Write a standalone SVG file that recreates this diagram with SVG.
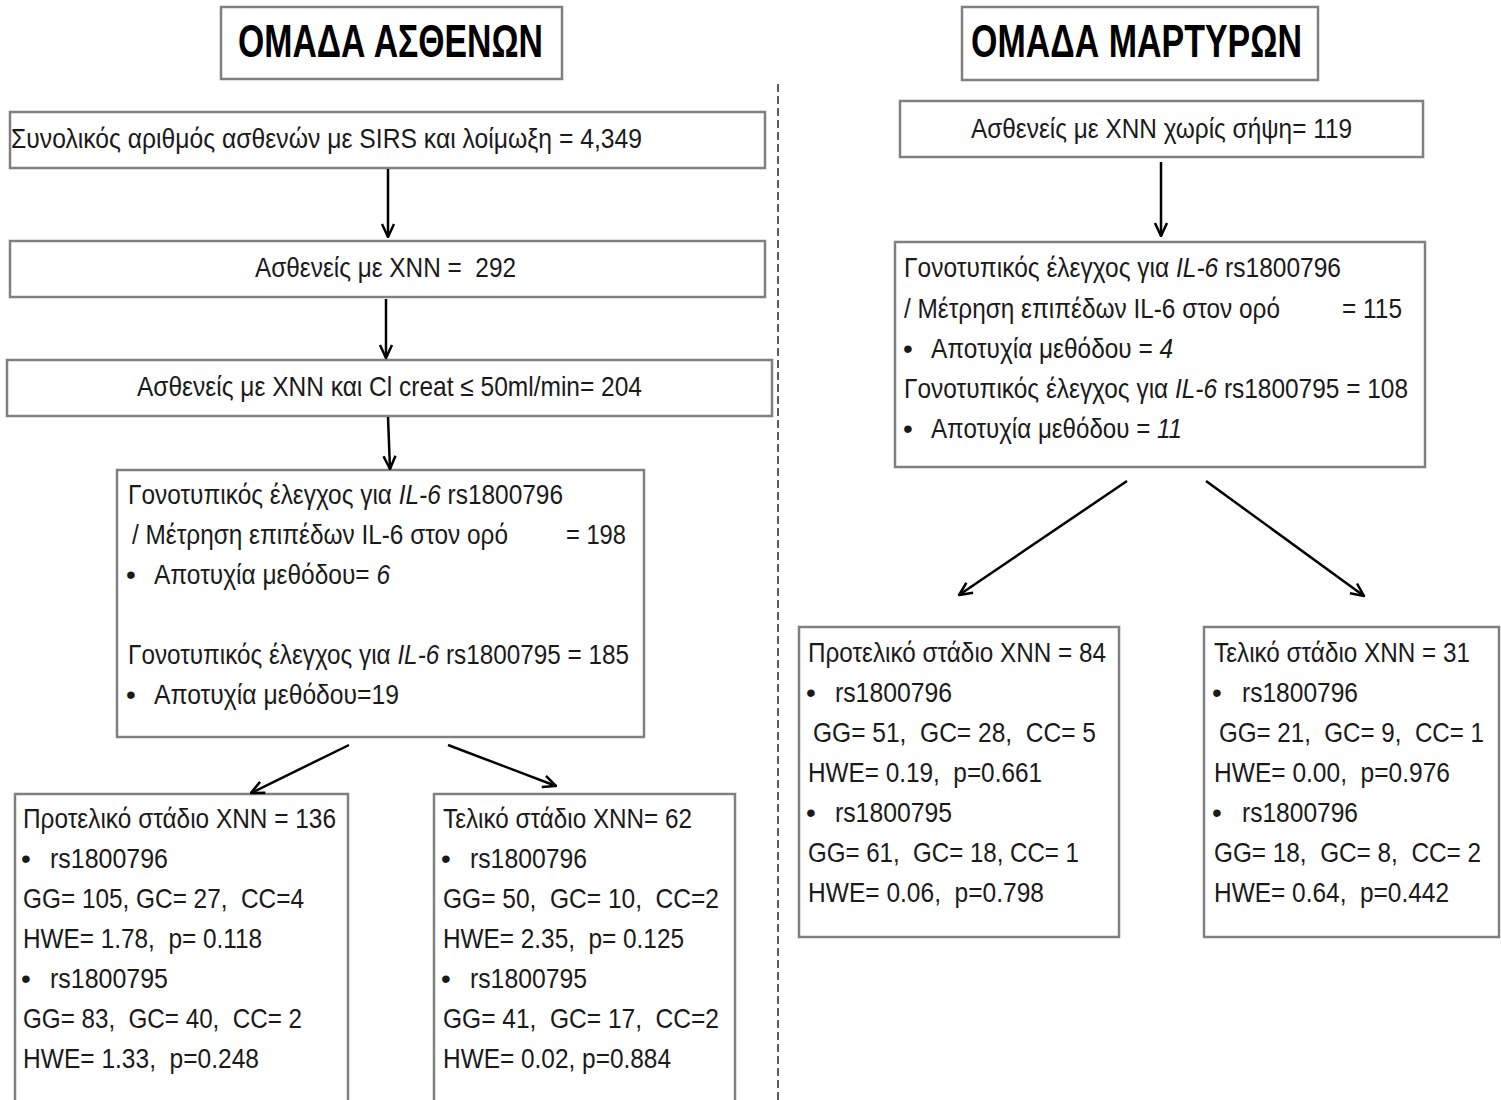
<svg xmlns="http://www.w3.org/2000/svg" width="1501" height="1100" viewBox="0 0 1501 1100">
<style>
.box{fill:#fff;stroke:#808080;stroke-width:2.5}
.t{font-family:"Liberation Sans",Arial,sans-serif;font-size:28px;fill:#1a1a1a;white-space:pre}
.ttl{font-family:"Liberation Sans",Arial,sans-serif;font-size:46px;font-weight:bold;fill:#000}
.i{font-style:italic}
.arr{stroke:#000;stroke-width:2.5;fill:none;marker-end:url(#ah)}
.sep{stroke:#333;stroke-width:1.6;stroke-dasharray:8,4;fill:none}
</style>
<defs>
<marker id="ah" viewBox="0 0 16 16" refX="15" refY="8" markerWidth="16" markerHeight="16" markerUnits="userSpaceOnUse" orient="auto">
<path d="M2,2 L15,8 L2,14" stroke="#000" stroke-width="2.5" fill="none"/>
</marker>
</defs>
<rect width="1501" height="1100" fill="#fff"/>

<g id="separator"><line class="sep" x1="778" y1="84" x2="778" y2="1100"/></g>

<g id="title-patients">
<rect class="box" x="221" y="7" width="341" height="72"/>
<text class="ttl" x="238" y="57" textLength="305" lengthAdjust="spacingAndGlyphs">ΟΜΑΔΑ ΑΣΘΕΝΩΝ</text>
</g>
<g id="title-controls">
<rect class="box" x="962" y="7" width="356" height="73"/>
<text class="ttl" x="971" y="57" textLength="331" lengthAdjust="spacingAndGlyphs">ΟΜΑΔΑ ΜΑΡΤΥΡΩΝ</text>
</g>

<g id="box-sirs">
<rect class="box" x="10" y="112" width="755" height="56"/>
<text class="t" x="11" y="148" textLength="631" lengthAdjust="spacingAndGlyphs">Συνολικός αριθμός ασθενών με SIRS και λοίμωξη = 4,349</text>
</g>
<g id="box-ckd">
<rect class="box" x="10" y="241" width="755" height="56"/>
<text class="t" x="255" y="277" textLength="261" lengthAdjust="spacingAndGlyphs">Ασθενείς με XNN =  292</text>
</g>
<g id="box-clcreat">
<rect class="box" x="7" y="360" width="765" height="56"/>
<text class="t" x="137" y="396" textLength="505" lengthAdjust="spacingAndGlyphs">Ασθενείς με XNN και Cl creat ≤ 50ml/min= 204</text>
</g>
<g id="box-genotype-patients">
<rect class="box" x="117" y="470" width="527" height="267"/>
<text class="t" x="128" y="504" textLength="435" lengthAdjust="spacingAndGlyphs">Γονοτυπικός έλεγχος για <tspan class="i">IL-6</tspan> rs1800796</text>
<text class="t" x="132" y="544" textLength="376" lengthAdjust="spacingAndGlyphs">/ Μέτρηση επιπέδων IL-6 στον ορό</text>
<text class="t" x="566" y="544" textLength="60" lengthAdjust="spacingAndGlyphs">= 198</text>
<text class="t" x="126" y="584">•</text>
<text class="t" x="154" y="584" textLength="236" lengthAdjust="spacingAndGlyphs">Αποτυχία μεθόδου= <tspan class="i">6</tspan></text>
<text class="t" x="128" y="664" textLength="501" lengthAdjust="spacingAndGlyphs">Γονοτυπικός έλεγχος για <tspan class="i">IL-6</tspan> rs1800795 = 185</text>
<text class="t" x="126" y="704">•</text>
<text class="t" x="154" y="704" textLength="245" lengthAdjust="spacingAndGlyphs">Αποτυχία μεθόδου=19</text>
</g>
<g id="box-pre-esrd-patients">
<rect class="box" x="15" y="794" width="333" height="330"/>
<text class="t" x="23" y="828" textLength="313" lengthAdjust="spacingAndGlyphs">Προτελικό στάδιο XNN = 136</text>
<text class="t" x="21" y="868">•</text>
<text class="t" x="50" y="868" textLength="118" lengthAdjust="spacingAndGlyphs">rs1800796</text>
<text class="t" x="23" y="908" textLength="281" lengthAdjust="spacingAndGlyphs">GG= 105, GC= 27,  CC=4</text>
<text class="t" x="23" y="948" textLength="239" lengthAdjust="spacingAndGlyphs">HWE= 1.78,  p= 0.118</text>
<text class="t" x="21" y="988">•</text>
<text class="t" x="50" y="988" textLength="118" lengthAdjust="spacingAndGlyphs">rs1800795</text>
<text class="t" x="23" y="1028" textLength="279" lengthAdjust="spacingAndGlyphs">GG= 83,  GC= 40,  CC= 2</text>
<text class="t" x="23" y="1068" textLength="236" lengthAdjust="spacingAndGlyphs">HWE= 1.33,  p=0.248</text>
</g>
<g id="box-esrd-patients">
<rect class="box" x="434" y="794" width="301" height="330"/>
<text class="t" x="443" y="828" textLength="249" lengthAdjust="spacingAndGlyphs">Τελικό στάδιο XNN= 62</text>
<text class="t" x="441" y="868">•</text>
<text class="t" x="470" y="868" textLength="117" lengthAdjust="spacingAndGlyphs">rs1800796</text>
<text class="t" x="443" y="908" textLength="276" lengthAdjust="spacingAndGlyphs">GG= 50,  GC= 10,  CC=2</text>
<text class="t" x="443" y="948" textLength="241" lengthAdjust="spacingAndGlyphs">HWE= 2.35,  p= 0.125</text>
<text class="t" x="441" y="988">•</text>
<text class="t" x="470" y="988" textLength="117" lengthAdjust="spacingAndGlyphs">rs1800795</text>
<text class="t" x="443" y="1028" textLength="276" lengthAdjust="spacingAndGlyphs">GG= 41,  GC= 17,  CC=2</text>
<text class="t" x="443" y="1068" textLength="228" lengthAdjust="spacingAndGlyphs">HWE= 0.02, p=0.884</text>
</g>

<g id="box-controls">
<rect class="box" x="900" y="101" width="523" height="56"/>
<text class="t" x="971" y="138" textLength="381" lengthAdjust="spacingAndGlyphs">Ασθενείς με XNN χωρίς σήψη= 119</text>
</g>
<g id="box-genotype-controls">
<rect class="box" x="895" y="242" width="530" height="225"/>
<text class="t" x="904" y="277" textLength="437" lengthAdjust="spacingAndGlyphs">Γονοτυπικός έλεγχος για <tspan class="i">IL-6</tspan> rs1800796</text>
<text class="t" x="904" y="318" textLength="376" lengthAdjust="spacingAndGlyphs">/ Μέτρηση επιπέδων IL-6 στον ορό</text>
<text class="t" x="1342" y="318" textLength="60" lengthAdjust="spacingAndGlyphs">= 115</text>
<text class="t" x="903" y="358">•</text>
<text class="t" x="931" y="358" textLength="242" lengthAdjust="spacingAndGlyphs">Αποτυχία μεθόδου = <tspan class="i">4</tspan></text>
<text class="t" x="904" y="398" textLength="504" lengthAdjust="spacingAndGlyphs">Γονοτυπικός έλεγχος για <tspan class="i">IL-6</tspan> rs1800795 = 108</text>
<text class="t" x="903" y="438">•</text>
<text class="t" x="931" y="438" textLength="251" lengthAdjust="spacingAndGlyphs">Αποτυχία μεθόδου = <tspan class="i">11</tspan></text>
</g>
<g id="box-pre-esrd-controls">
<rect class="box" x="799" y="627" width="320" height="310"/>
<text class="t" x="808" y="662" textLength="298" lengthAdjust="spacingAndGlyphs">Προτελικό στάδιο XNN = 84</text>
<text class="t" x="806" y="702">•</text>
<text class="t" x="835" y="702" textLength="117" lengthAdjust="spacingAndGlyphs">rs1800796</text>
<text class="t" x="813" y="742" textLength="283" lengthAdjust="spacingAndGlyphs">GG= 51,  GC= 28,  CC= 5</text>
<text class="t" x="808" y="782" textLength="234" lengthAdjust="spacingAndGlyphs">HWE= 0.19,  p=0.661</text>
<text class="t" x="806" y="822">•</text>
<text class="t" x="835" y="822" textLength="117" lengthAdjust="spacingAndGlyphs">rs1800795</text>
<text class="t" x="808" y="862" textLength="271" lengthAdjust="spacingAndGlyphs">GG= 61,  GC= 18, CC= 1</text>
<text class="t" x="808" y="902" textLength="236" lengthAdjust="spacingAndGlyphs">HWE= 0.06,  p=0.798</text>
</g>
<g id="box-esrd-controls">
<rect class="box" x="1204" y="627" width="295" height="310"/>
<text class="t" x="1214" y="662" textLength="256" lengthAdjust="spacingAndGlyphs">Τελικό στάδιο XNN = 31</text>
<text class="t" x="1212" y="702">•</text>
<text class="t" x="1242" y="702" textLength="116" lengthAdjust="spacingAndGlyphs">rs1800796</text>
<text class="t" x="1219" y="742" textLength="265" lengthAdjust="spacingAndGlyphs">GG= 21,  GC= 9,  CC= 1</text>
<text class="t" x="1214" y="782" textLength="236" lengthAdjust="spacingAndGlyphs">HWE= 0.00,  p=0.976</text>
<text class="t" x="1212" y="822">•</text>
<text class="t" x="1242" y="822" textLength="116" lengthAdjust="spacingAndGlyphs">rs1800796</text>
<text class="t" x="1214" y="862" textLength="267" lengthAdjust="spacingAndGlyphs">GG= 18,  GC= 8,  CC= 2</text>
<text class="t" x="1214" y="902" textLength="235" lengthAdjust="spacingAndGlyphs">HWE= 0.64,  p=0.442</text>
</g>

<g id="connectors">
<line class="arr" x1="388" y1="169" x2="388" y2="237"/>
<line class="arr" x1="386" y1="299" x2="386" y2="358"/>
<line class="arr" x1="388" y1="417" x2="390" y2="469"/>
<line class="arr" x1="349" y1="745" x2="251" y2="793"/>
<line class="arr" x1="448" y1="745" x2="556" y2="786"/>
<line class="arr" x1="1161" y1="162" x2="1161" y2="236"/>
<line class="arr" x1="1127" y1="481" x2="959" y2="595"/>
<line class="arr" x1="1206" y1="481" x2="1364" y2="596"/>
</g>
</svg>
